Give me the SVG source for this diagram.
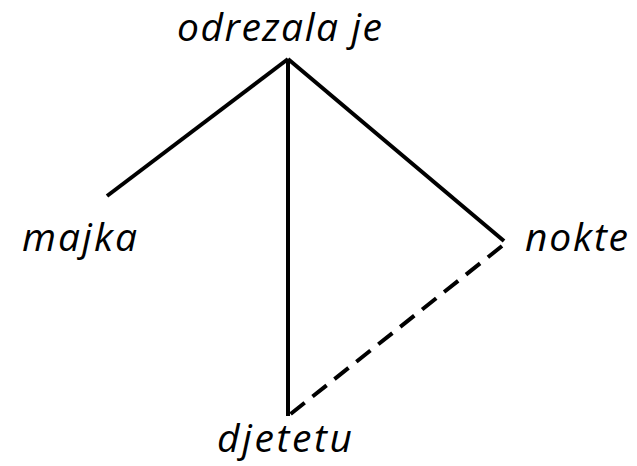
<svg xmlns="http://www.w3.org/2000/svg" width="637" height="466" viewBox="0 0 637 466">
<style>
.lbl{font-family:"Open Sans","Liberation Sans",sans-serif;font-style:italic;font-size:39px;fill:#000}
.edge{stroke:#000;stroke-width:4;fill:none;stroke-linecap:butt}
.dash{stroke-dasharray:18 10}
</style>
<rect width="637" height="466" fill="#fff"/>
<g id="connectors">
<line class="edge" x1="288" y1="59" x2="107" y2="196"/>
<line class="edge" x1="288" y1="59" x2="288" y2="416"/>
<line class="edge" x1="288" y1="59" x2="504" y2="241"/>
<line class="edge dash" x1="502" y1="246" x2="288" y2="416"/>
</g>
<g id="n-odrezala"><text class="lbl" x="177" y="41" textLength="205">odrezala je</text></g>
<g id="n-majka"><text class="lbl" x="22" y="251" textLength="115">majka</text></g>
<g id="n-nokte"><text class="lbl" x="525" y="251" textLength="103">nokte</text></g>
<g id="n-djetetu"><text class="lbl" x="217" y="452" textLength="135">djetetu</text></g>
</svg>
